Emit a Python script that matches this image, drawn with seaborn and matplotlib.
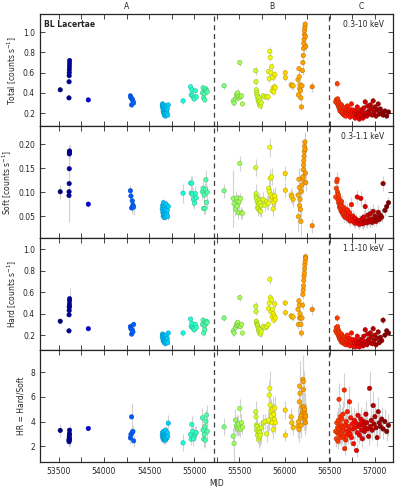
import matplotlib
matplotlib.use('Agg')
import matplotlib.pyplot as plt
import matplotlib.transforms as mtransforms
from matplotlib.ticker import MultipleLocator
import numpy as np
import pandas as pd
import seaborn as sns

# Observation dates (MJD), grouped by campaign
mjd = [53515,
       53612, 53613, 53614, 53615, 53616, 53617, 53618, 53619,
       53826,
       54292, 54298, 54305, 54312, 54320, 54328,
       54645, 54648, 54651, 54655, 54658, 54661, 54664, 54667, 54670, 54673,
       54676, 54679, 54682, 54685, 54688, 54692, 54696, 54700, 54705, 54712,
       54875,
       54958, 54965, 54972, 54980, 54990, 55000, 55012, 55022,
       55090, 55097, 55104, 55110, 55116, 55122, 55128, 55135, 55142,
       # period B
       55329,
       55430, 55440, 55455, 55466, 55473, 55480, 55488, 55495, 55503, 55511, 55522, 55533,
       55680, 55683, 55686, 55690, 55695, 55700, 55706, 55712, 55717, 55722, 55727, 55733,
       55740, 55762, 55781, 55800,
       55818, 55822, 55829, 55836, 55840, 55848, 55855, 55862, 55866, 55873, 55880, 55886,
       55891, 55896,
       56006, 56008,
       56072, 56080, 56094,
       56148, 56152, 56158, 56162, 56166, 56170, 56175, 56180, 56186, 56192, 56198, 56202,
       56206, 56209, 56212, 56215, 56218, 56221, 56224, 56227, 56230, 56234,
       56305,
       # period C
       56565, 56572, 56578, 56582, 56586, 56590, 56594, 56598, 56602, 56606,
       56610, 56614, 56618, 56622, 56626, 56630, 56634, 56638, 56642, 56646,
       56650, 56655, 56660, 56665, 56670, 56676, 56682, 56688, 56694, 56700,
       56706, 56712, 56718, 56725, 56732, 56740, 56748, 56756, 56764, 56772,
       56780, 56788, 56796, 56804, 56812, 56820, 56828, 56836, 56844, 56852,
       56860, 56868, 56876, 56884, 56892, 56900, 56910, 56920, 56930, 56940,
       56950, 56960, 56970, 56980, 56990, 57000, 57012, 57024, 57036, 57048,
       57060, 57075, 57090, 57110, 57130, 57150]

total = [0.43,
         0.35, 0.51, 0.57, 0.60, 0.63, 0.66, 0.69, 0.72,
         0.33,
         0.37, 0.35, 0.28, 0.34, 0.32, 0.30,
         0.27, 0.29, 0.25, 0.22, 0.28, 0.20, 0.24, 0.18, 0.26, 0.21,
         0.23, 0.17, 0.25, 0.19, 0.27, 0.22, 0.20, 0.24, 0.18, 0.28,
         0.32,
         0.46, 0.38, 0.43, 0.37, 0.35, 0.34, 0.42, 0.36,
         0.40, 0.45, 0.35, 0.39, 0.33, 0.43, 0.44, 0.42, 0.41,
         0.47,
         0.32, 0.30, 0.34, 0.38, 0.36, 0.40, 0.35, 0.37, 0.70, 0.36, 0.37, 0.29,
         0.62, 0.51, 0.43, 0.40, 0.38, 0.36, 0.33, 0.31, 0.35, 0.28, 0.32, 0.27,
         0.30, 0.37, 0.36, 0.36,
         0.36, 0.61, 0.54, 0.81, 0.75, 0.60, 0.66, 0.42, 0.55, 0.45, 0.41, 0.46,
         0.58, 0.45,
         0.60, 0.55,
         0.48, 0.47, 0.47,
         0.53, 0.38, 0.64, 0.56, 0.44, 0.48, 0.42, 0.35, 0.26, 0.47, 0.62, 0.70,
         0.77, 0.84, 0.89, 0.93, 0.98, 1.02, 1.05, 1.08, 0.96, 0.86,
         0.46,
         0.31, 0.33, 0.30, 0.49, 0.34, 0.28, 0.32, 0.26, 0.30, 0.24,
         0.29, 0.22, 0.27, 0.25, 0.21, 0.28, 0.23, 0.20, 0.26, 0.19,
         0.24, 0.22, 0.18, 0.25, 0.21, 0.17, 0.23, 0.20, 0.27, 0.19,
         0.22, 0.18, 0.24, 0.16, 0.21, 0.29, 0.19, 0.23, 0.17, 0.20,
         0.15, 0.22, 0.18, 0.26, 0.16, 0.20, 0.14, 0.19, 0.23, 0.17,
         0.21, 0.15, 0.25, 0.18, 0.31, 0.20, 0.17, 0.27, 0.22, 0.19,
         0.28, 0.24, 0.18, 0.32, 0.21, 0.26, 0.17, 0.23, 0.29, 0.19,
         0.24, 0.20, 0.18, 0.22, 0.17, 0.21]

total_err = [0.02,
             0.02, 0.02, 0.02, 0.02, 0.02, 0.02, 0.02, 0.03,
             0.015,
             0.02, 0.02, 0.02, 0.02, 0.02, 0.02,
             0.02, 0.015, 0.02, 0.015, 0.02, 0.015, 0.02, 0.015, 0.02, 0.015,
             0.02, 0.015, 0.02, 0.015, 0.02, 0.015, 0.02, 0.015, 0.02, 0.015,
             0.03,
             0.03, 0.025, 0.03, 0.025, 0.03, 0.025, 0.03, 0.025,
             0.03, 0.03, 0.025, 0.03, 0.025, 0.03, 0.03, 0.025, 0.03,
             0.03,
             0.04, 0.03, 0.03, 0.025, 0.03, 0.025, 0.03, 0.025, 0.03, 0.025, 0.03, 0.025,
             0.04, 0.03, 0.03, 0.03, 0.025, 0.03, 0.025, 0.04, 0.025, 0.03, 0.025, 0.03,
             0.025, 0.03, 0.025, 0.03,
             0.03, 0.04, 0.03, 0.04, 0.035, 0.03, 0.035, 0.03, 0.035, 0.03, 0.03, 0.035,
             0.04, 0.03,
             0.03, 0.03,
             0.03, 0.03, 0.04,
             0.04, 0.03, 0.04, 0.035, 0.04, 0.035, 0.04, 0.04, 0.035, 0.04, 0.04, 0.045,
             0.04, 0.045, 0.04, 0.045, 0.04, 0.045, 0.04, 0.045, 0.04, 0.045,
             0.05,
             0.03, 0.03, 0.025, 0.04, 0.03, 0.025, 0.03, 0.025, 0.03, 0.025,
             0.03, 0.025, 0.03, 0.025, 0.025, 0.03, 0.025, 0.025, 0.03, 0.025,
             0.025, 0.02, 0.025, 0.03, 0.02, 0.025, 0.02, 0.025, 0.03, 0.02,
             0.025, 0.02, 0.03, 0.02, 0.025, 0.03, 0.02, 0.025, 0.02, 0.025,
             0.02, 0.025, 0.02, 0.03, 0.02, 0.025, 0.02, 0.025, 0.03, 0.02,
             0.025, 0.02, 0.03, 0.02, 0.035, 0.025, 0.02, 0.03, 0.025, 0.02,
             0.03, 0.025, 0.02, 0.035, 0.025, 0.03, 0.02, 0.025, 0.03, 0.02,
             0.025, 0.025, 0.02, 0.025, 0.02, 0.025]

soft = [0.101,
        0.093, 0.101, 0.118, 0.149, 0.180, 0.182, 0.186, 0.184,
        0.075,
        0.103, 0.092, 0.067, 0.082, 0.073, 0.069,
        0.065, 0.072, 0.058, 0.050, 0.078, 0.053, 0.061, 0.047, 0.069, 0.055,
        0.060, 0.048, 0.064, 0.052, 0.075, 0.057, 0.054, 0.062, 0.049, 0.070,
        0.098,
        0.119, 0.098, 0.119, 0.096, 0.085, 0.077, 0.097, 0.088,
        0.101, 0.108, 0.066, 0.094, 0.066, 0.105, 0.126, 0.079, 0.100,
        0.103,
        0.087, 0.076, 0.065, 0.088, 0.071, 0.081, 0.057, 0.080, 0.160, 0.087, 0.057, 0.056,
        0.151, 0.097, 0.090, 0.087, 0.080, 0.069, 0.065, 0.075, 0.083, 0.062, 0.078, 0.060,
        0.072, 0.085, 0.073, 0.080,
        0.077, 0.108, 0.101, 0.194, 0.129, 0.094, 0.132, 0.085, 0.090, 0.065, 0.079, 0.088,
        0.092, 0.084,
        0.139, 0.104,
        0.094, 0.090, 0.085,
        0.094, 0.049, 0.127, 0.110, 0.072, 0.085, 0.064, 0.039, 0.102, 0.115, 0.127, 0.132,
        0.147, 0.157, 0.166, 0.175, 0.185, 0.196, 0.205, 0.190, 0.140, 0.120,
        0.030,
        0.090, 0.108, 0.122, 0.127, 0.100, 0.085, 0.095, 0.078, 0.088, 0.070,
        0.082, 0.066, 0.075, 0.072, 0.060, 0.080, 0.064, 0.058, 0.070, 0.054,
        0.062, 0.056, 0.050, 0.066, 0.052, 0.047, 0.058, 0.050, 0.063, 0.045,
        0.054, 0.043, 0.057, 0.040, 0.048, 0.074, 0.042, 0.050, 0.038, 0.046,
        0.035, 0.044, 0.039, 0.090, 0.036, 0.041, 0.033, 0.040, 0.087, 0.036,
        0.045, 0.034, 0.048, 0.037, 0.070, 0.040, 0.036, 0.052, 0.042, 0.038,
        0.055, 0.044, 0.037, 0.060, 0.042, 0.050, 0.039, 0.047, 0.058, 0.043,
        0.052, 0.048, 0.118, 0.062, 0.070, 0.078]

soft_err = [0.015,
            0.010, 0.012, 0.080, 0.012, 0.012, 0.015, 0.012, 0.012,
            0.006,
            0.012, 0.010, 0.012, 0.010, 0.012, 0.016,
            0.008, 0.006, 0.008, 0.006, 0.008, 0.006, 0.008, 0.006, 0.008, 0.006,
            0.008, 0.006, 0.008, 0.006, 0.008, 0.006, 0.008, 0.006, 0.008, 0.006,
            0.020,
            0.015, 0.012, 0.015, 0.012, 0.015, 0.012, 0.015, 0.012,
            0.015, 0.015, 0.012, 0.015, 0.012, 0.015, 0.020, 0.012, 0.015,
            0.015,
            0.060, 0.015, 0.015, 0.015, 0.012, 0.015, 0.012, 0.015, 0.015, 0.012, 0.012, 0.012,
            0.018, 0.020, 0.015, 0.015, 0.015, 0.012, 0.015, 0.012, 0.015, 0.012, 0.015, 0.012,
            0.015, 0.015, 0.012, 0.015,
            0.015, 0.015, 0.015, 0.020, 0.020, 0.015, 0.018, 0.015, 0.018, 0.015, 0.015, 0.015,
            0.018, 0.015,
            0.015, 0.015,
            0.015, 0.015, 0.015,
            0.020, 0.030, 0.020, 0.040, 0.020, 0.018, 0.020, 0.030, 0.020, 0.018, 0.020, 0.018,
            0.020, 0.018, 0.020, 0.018, 0.020, 0.025, 0.020, 0.018, 0.020, 0.018,
            0.015,
            0.015, 0.015, 0.018, 0.015, 0.015, 0.012, 0.015, 0.012, 0.015, 0.012,
            0.015, 0.012, 0.015, 0.012, 0.012, 0.015, 0.012, 0.012, 0.015, 0.012,
            0.012, 0.010, 0.012, 0.015, 0.010, 0.012, 0.010, 0.012, 0.015, 0.010,
            0.012, 0.010, 0.015, 0.010, 0.012, 0.015, 0.010, 0.012, 0.010, 0.012,
            0.010, 0.012, 0.010, 0.015, 0.010, 0.012, 0.010, 0.012, 0.015, 0.010,
            0.012, 0.010, 0.015, 0.010, 0.015, 0.012, 0.010, 0.015, 0.012, 0.010,
            0.015, 0.012, 0.010, 0.015, 0.012, 0.015, 0.010, 0.012, 0.015, 0.010,
            0.012, 0.012, 0.015, 0.012, 0.012, 0.012]

hard = [0.33,
        0.24, 0.39, 0.43, 0.46, 0.47, 0.49, 0.52, 0.54,
        0.26,
        0.28, 0.26, 0.21, 0.25, 0.23, 0.30,
        0.19, 0.21, 0.17, 0.15, 0.20, 0.14, 0.18, 0.13, 0.19, 0.15,
        0.17, 0.12, 0.18, 0.14, 0.20, 0.16, 0.15, 0.17, 0.13, 0.22,
        0.22,
        0.35, 0.28, 0.31, 0.27, 0.26, 0.25, 0.30, 0.27,
        0.30, 0.34, 0.22, 0.29, 0.25, 0.32, 0.31, 0.33, 0.32,
        0.36,
        0.24, 0.22, 0.27, 0.29, 0.31, 0.32, 0.29, 0.29, 0.55, 0.28, 0.30, 0.22,
        0.47, 0.42, 0.33, 0.31, 0.30, 0.29, 0.27, 0.24, 0.26, 0.22, 0.25, 0.21,
        0.23, 0.28, 0.27, 0.28,
        0.30, 0.45, 0.50, 0.72, 0.55, 0.42, 0.53, 0.37, 0.44, 0.40, 0.34, 0.38,
        0.49, 0.36,
        0.50, 0.41,
        0.38, 0.37, 0.37,
        0.44, 0.30, 0.52, 0.48, 0.36, 0.40, 0.36, 0.30, 0.22, 0.36, 0.48, 0.58,
        0.62, 0.66, 0.71, 0.75, 0.78, 0.82, 0.86, 0.89, 0.93, 0.92,
        0.44,
        0.24, 0.27, 0.22, 0.36, 0.28, 0.21, 0.25, 0.19, 0.23, 0.17,
        0.22, 0.16, 0.20, 0.18, 0.14, 0.21, 0.16, 0.13, 0.19, 0.14,
        0.17, 0.15, 0.12, 0.18, 0.14, 0.11, 0.16, 0.13, 0.20, 0.12,
        0.15, 0.11, 0.17, 0.10, 0.14, 0.22, 0.12, 0.16, 0.10, 0.13,
        0.09, 0.15, 0.12, 0.19, 0.10, 0.14, 0.09, 0.13, 0.16, 0.11,
        0.15, 0.10, 0.19, 0.12, 0.25, 0.14, 0.11, 0.21, 0.16, 0.13,
        0.22, 0.18, 0.12, 0.26, 0.15, 0.20, 0.11, 0.17, 0.23, 0.13,
        0.18, 0.15, 0.34, 0.20, 0.24, 0.22]

hard_err = [0.02,
            0.02, 0.02, 0.03, 0.03, 0.03, 0.03, 0.03, 0.10,
            0.015,
            0.03, 0.02, 0.02, 0.02, 0.02, 0.03,
            0.015, 0.015, 0.02, 0.015, 0.015, 0.02, 0.015, 0.015, 0.02, 0.015,
            0.015, 0.02, 0.015, 0.015, 0.02, 0.015, 0.015, 0.02, 0.015, 0.015,
            0.03,
            0.03, 0.025, 0.03, 0.025, 0.03, 0.025, 0.03, 0.025,
            0.03, 0.03, 0.025, 0.03, 0.025, 0.03, 0.03, 0.025, 0.03,
            0.025,
            0.05, 0.03, 0.03, 0.025, 0.03, 0.025, 0.03, 0.025, 0.03, 0.025, 0.03, 0.025,
            0.04, 0.03, 0.03, 0.03, 0.025, 0.03, 0.025, 0.04, 0.025, 0.03, 0.025, 0.03,
            0.025, 0.03, 0.025, 0.03,
            0.03, 0.04, 0.03, 0.04, 0.035, 0.03, 0.035, 0.03, 0.035, 0.03, 0.03, 0.035,
            0.04, 0.03,
            0.03, 0.03,
            0.03, 0.03, 0.04,
            0.04, 0.04, 0.04, 0.05, 0.04, 0.035, 0.04, 0.04, 0.035, 0.04, 0.04, 0.045,
            0.04, 0.045, 0.04, 0.045, 0.04, 0.045, 0.04, 0.045, 0.04, 0.045,
            0.05,
            0.03, 0.03, 0.025, 0.04, 0.03, 0.025, 0.03, 0.025, 0.03, 0.025,
            0.03, 0.025, 0.03, 0.025, 0.025, 0.03, 0.025, 0.025, 0.03, 0.025,
            0.025, 0.02, 0.025, 0.03, 0.02, 0.025, 0.02, 0.025, 0.03, 0.02,
            0.025, 0.02, 0.03, 0.02, 0.025, 0.03, 0.02, 0.025, 0.02, 0.025,
            0.02, 0.025, 0.02, 0.03, 0.02, 0.025, 0.02, 0.025, 0.03, 0.02,
            0.025, 0.02, 0.03, 0.02, 0.035, 0.025, 0.02, 0.03, 0.025, 0.02,
            0.03, 0.025, 0.02, 0.035, 0.025, 0.03, 0.02, 0.025, 0.03, 0.02,
            0.025, 0.025, 0.04, 0.025, 0.03, 0.025]

hr = [3.28,
      2.49, 2.36, 2.60, 2.76, 2.95, 3.00, 3.30, 2.55,
      3.44,
      2.67, 2.95, 4.38, 3.11, 3.20, 2.43,
      2.9, 3.1, 2.7, 2.6, 3.2, 2.5, 2.8, 2.6, 3.0, 2.7,
      2.9, 2.5, 3.3, 2.6, 3.0, 2.8, 2.7, 3.1, 2.8, 3.87,
      2.27,
      2.95, 2.57, 3.77, 3.20, 2.60, 2.90, 3.00, 3.10,
      4.30, 3.30, 2.57, 2.95, 3.57, 2.49, 4.03, 4.52, 3.20,
      3.57,
      2.81, 2.22, 4.12, 3.63, 3.70, 3.40, 3.80, 3.50, 5.07, 3.36, 3.90, 3.55,
      4.79, 4.38, 3.71, 3.30, 3.60, 2.89, 3.20, 2.54, 3.40, 2.75, 3.10, 2.90,
      3.50, 3.90, 4.00, 3.00,
      4.00, 4.12, 6.15, 6.70, 5.34, 4.87, 4.45, 3.90, 5.00, 3.36, 4.60, 4.20,
      5.10, 3.90,
      4.93, 2.89,
      4.38, 3.90, 3.52,
      3.63, 3.98, 3.36, 5.60, 6.88, 6.29, 4.30, 3.70, 4.50, 5.20, 4.79, 7.43,
      7.24, 6.60, 5.20, 4.79, 4.30, 5.00, 4.10, 4.60, 3.90, 4.40,
      np.nan,
      3.2, 2.6, 3.9, 3.1, 3.5, 2.4, 4.1, 3.0, 5.8, 3.4,
      2.9, 3.8, 4.4, 3.1, 2.7, 3.6, 4.2, 3.0, 3.3, 4.6,
      3.5, 2.8, 6.56, 1.8, 3.7, 2.5, 4.0, 3.2, 4.8, 2.9,
      3.6, 3.3, 5.6, 3.0, 4.3, 2.7, 3.8, 3.4, 2.2, 4.1,
      3.5, 3.9, 1.65, 3.1, 4.5, 3.6, 2.9, 3.8, 4.2, 3.3,
      2.6, 3.7, 4.0, 3.2, 3.5, 4.6, 3.9, 3.4, 2.8, 6.7,
      3.6, 4.1, 3.3, 5.3, 3.8, 4.4, 3.5, 2.7, 4.8, 3.9,
      3.6, 4.2, 3.4, 4.0, 3.2, 3.7]

hr_err = [0.5,
          0.5, 0.4, 0.4, 0.4, 0.4, 0.4, 0.4, 0.5,
          0.2,
          0.5, 0.4, 1.1, 0.5, 0.4, 0.5,
          0.3, 0.35, 0.3, 0.35, 0.3, 0.35, 0.3, 0.35, 0.3, 0.35,
          0.3, 0.35, 0.3, 0.35, 0.3, 0.35, 0.3, 0.35, 0.3, 0.7,
          0.7,
          0.6, 0.5, 0.7, 0.5, 0.6, 0.5, 0.6, 0.5,
          0.8, 0.6, 0.6, 0.7, 0.6, 0.6, 0.9, 0.8, 0.6,
          0.7,
          0.7, 1.5, 0.9, 0.7, 0.8, 0.6, 0.7, 0.6, 0.8, 0.6, 0.7, 0.6,
          0.9, 0.8, 0.7, 0.7, 0.6, 0.7, 0.6, 0.7, 0.6, 0.7, 0.6, 0.7,
          0.6, 0.7, 0.6, 0.7,
          0.8, 0.9, 1.2, 1.4, 1.1, 1.0, 0.9, 0.8, 1.0, 0.8, 0.9, 0.8,
          1.0, 0.8,
          0.7, 0.5,
          0.7, 0.6, 0.6,
          1.0, 1.2, 1.0, 1.5, 2.0, 1.6, 1.2, 1.0, 1.3, 1.4, 1.2, 2.0,
          1.8, 1.5, 1.2, 1.1, 1.0, 1.3, 1.0, 1.2, 1.0, 1.1,
          1.0,
          0.8, 0.7, 0.9, 0.8, 0.9, 0.6, 1.0, 0.8, 1.3, 0.8,
          0.7, 0.9, 1.0, 0.8, 0.7, 0.9, 1.0, 0.8, 0.8, 1.1,
          0.9, 0.7, 1.4, 0.5, 0.9, 0.7, 1.0, 0.8, 1.1, 0.7,
          0.9, 0.8, 1.3, 0.8, 1.0, 0.7, 0.9, 0.8, 0.6, 1.0,
          0.9, 1.0, 0.5, 0.8, 1.1, 0.9, 0.7, 0.9, 1.0, 0.8,
          0.7, 0.9, 1.0, 0.8, 0.9, 1.1, 1.0, 0.8, 0.7, 1.4,
          0.9, 1.0, 0.8, 1.2, 0.9, 1.1, 0.9, 0.7, 1.2, 1.0,
          0.9, 1.0, 0.8, 1.0, 0.8, 0.9]

# period boundaries and labels
dividers = [55215, 56490]
periods = ['A', 'B', 'C']
band_labels = ['0.3-10 keV', '0.3-1.1 keV', '1.1-10 keV', '']
ylabels = ['Total [counts s$^{-1}$]', 'Soft [counts s$^{-1}$]',
           'Hard [counts s$^{-1}$]', 'HR = Hard/Soft']

sns.set_style('ticks')
plt.rcParams.update({
    'font.family': ['DejaVu Sans'],
    'xtick.direction': 'in', 'ytick.direction': 'in',
    'xtick.top': True, 'ytick.right': True,
    'xtick.labelsize': 5.5, 'ytick.labelsize': 5.5,
    'xtick.major.size': 3.5, 'ytick.major.size': 3.5,
    'xtick.minor.size': 3.5, 'ytick.minor.size': 2,
    'xtick.major.width': 0.6, 'ytick.major.width': 0.6,
    'xtick.minor.width': 0.6,
    'axes.linewidth': 0.9,
})

fig, axes = plt.subplots(4, 1, sharex=True, figsize=(3.99, 4.87), dpi=100)
fig.subplots_adjust(left=0.1, right=0.985, top=0.971, bottom=0.051, hspace=0)

series = [(total, total_err), (soft, soft_err), (hard, hard_err), (hr, hr_err)]
ylims = [(0.07, 1.18), (0.004, 0.238), (0.06, 1.105), (0.7, 9.8)]
yticks = [[0.2, 0.4, 0.6, 0.8, 1.0], [0.05, 0.10, 0.15, 0.20],
          [0.2, 0.4, 0.6, 0.8, 1.0], [2, 4, 6, 8]]
yfmt = ['{:.1f}', '{:.2f}', '{:.1f}', '{:.0f}']
norm = (min(mjd), max(mjd))
jet = matplotlib.colormaps['jet']

for i, ax in enumerate(axes):
    vals, errs = series[i]
    df = pd.DataFrame({'mjd': mjd, 'value': vals, 'err': errs}).dropna()
    ax.errorbar(df['mjd'], df['value'], yerr=df['err'], fmt='none',
                ecolor='0.82', elinewidth=0.8, capsize=0, zorder=1)
    sns.scatterplot(data=df, x='mjd', y='value', hue='mjd', palette=jet,
                    hue_norm=norm, s=10, linewidth=0.4, legend=False,
                    ax=ax, zorder=3)
    pts = ax.collections[-1]
    fc = pts.get_facecolors()
    pts.set_edgecolors(fc * np.array([0.75, 0.75, 0.75, 1.0]))

    for xv in dividers:
        ax.axvline(xv, color='0.25', ls='--', lw=0.9, dashes=(4, 3), zorder=2)

    ax.set_ylim(*ylims[i])
    ax.set_yticks(yticks[i])
    ax.set_yticklabels([yfmt[i].format(t) for t in yticks[i]])
    ax.set_ylabel(ylabels[i], fontsize=5.5, labelpad=3)
    ax.set_xlabel('')
    if band_labels[i]:
        ax.text(0.975, 0.95, band_labels[i], transform=ax.transAxes,
                ha='right', va='top', fontsize=5.5)

axes[0].text(0.012, 0.95, 'BL Lacertae', transform=axes[0].transAxes,
             ha='left', va='top', fontsize=5.5, fontweight='bold')

ax = axes[-1]
ax.set_xlim(53290, 57200)
ax.xaxis.set_major_locator(MultipleLocator(500))
ax.xaxis.set_minor_locator(MultipleLocator(250))
ax.set_xlabel('MJD', fontsize=5.5, labelpad=2)

edges = [53290] + dividers + [57200]
trans = mtransforms.blended_transform_factory(axes[0].transData, axes[0].transAxes)
for k, name in enumerate(periods):
    axes[0].text((edges[k] + edges[k + 1]) / 2, 1.025, name, transform=trans,
                 ha='center', va='bottom', fontsize=5.5)

fig.savefig('out.png', dpi=100)
